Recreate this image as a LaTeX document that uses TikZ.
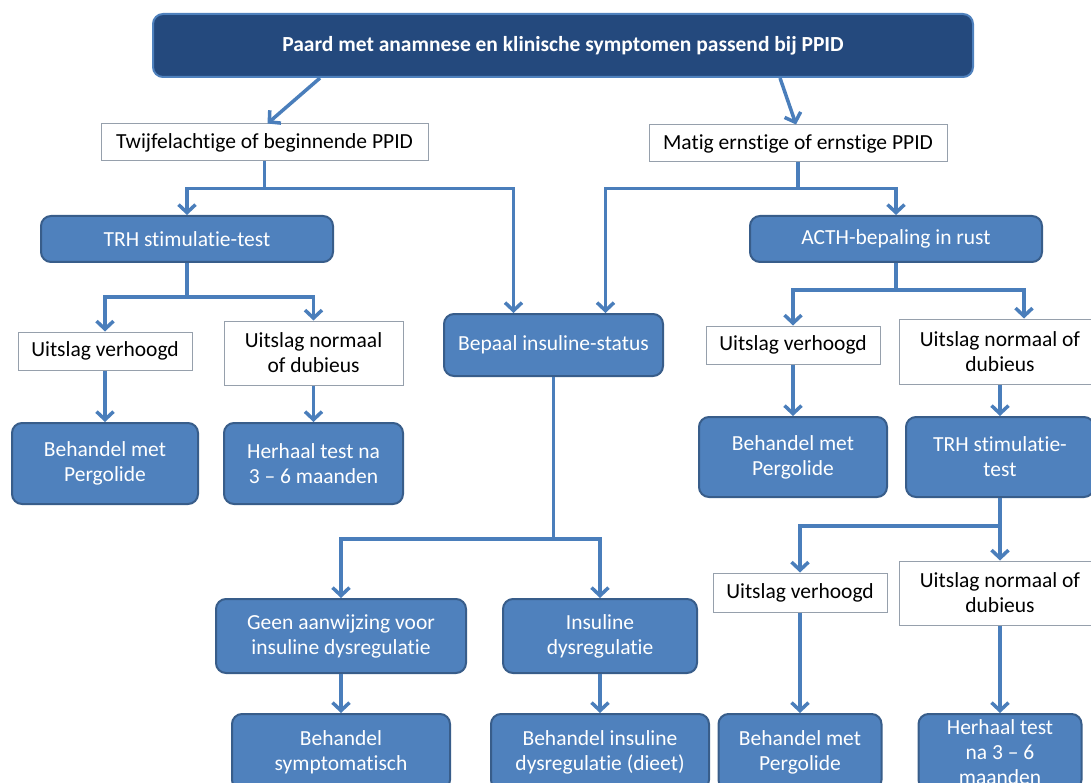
\documentclass[tikz,border=0pt]{standalone}
\usepackage{fontspec}
\setmainfont{Carlito}[Ligatures=NoCommon]
\usepackage{tikz}
\usetikzlibrary{arrows.meta, positioning}
\usepackage{xcolor}
\definecolor{navy}{RGB}{36,73,125}
\definecolor{midblue}{RGB}{79,129,189}
\definecolor{darkrim}{RGB}{56,93,138}
\definecolor{linkblue}{RGB}{74,126,187}
\definecolor{rimgray}{RGB}{150,160,172}

\begin{document}
\begin{tikzpicture}[x=1pt, y=-1pt, ->, >={Straight Barb[length=8pt, width=17pt]}]
    \tikzstyle{headbox} = [draw=midblue, line width=2pt, fill=navy, rounded corners=10pt, text=white, font=\fontsize{21.5}{25}\selectfont\bfseries, align=center, inner sep=2pt]
    \tikzstyle{choicebox} = [draw=rimgray, line width=1pt, fill=white, text=black, font=\fontsize{21.5}{25}\selectfont, align=center, inner sep=2pt]
    \tikzstyle{actionbox} = [draw=darkrim, line width=2pt, fill=midblue, rounded corners=10pt, text=white, font=\fontsize{21.5}{25}\selectfont, align=center, inner sep=2pt]
    \tikzstyle{link} = [draw=linkblue, line width=3.5pt]
    \useasboundingbox (0,0) rectangle (1091,783);
    \clip (0,0) rectangle (1091,783);
    % top and the two branches
    \node [headbox, minimum width=820, minimum height=63] at (563,45.5) (1) {Paard met anamnese en klinische symptomen passend bij PPID};
    \node [choicebox, minimum width=327, minimum height=37] at (264.5,142.5) (2) {Twijfelachtige of beginnende PPID};
    \node [choicebox, minimum width=298, minimum height=37] at (798,143.5) (3) {Matig ernstige of ernstige PPID};
    \node [actionbox, minimum width=292, minimum height=46] at (187,239) (4) {TRH stimulatie-test};
    \node [actionbox, minimum width=219, minimum height=62] at (553.5,345) (5) {Bepaal insuline-status};
    \node [actionbox, minimum width=292, minimum height=46] at (896,239) (6) {ACTH-bepaling in rust};
    % left column
    \node [choicebox, minimum width=174, minimum height=38] at (105,351) (7) {Uitslag verhoogd};
    \node [choicebox, minimum width=179, minimum height=64] at (313.5,353) (8) {Uitslag normaal\\of dubieus};
    \node [actionbox, minimum width=186, minimum height=81] at (105,463.5) (9) {Behandel met\\Pergolide};
    \node [actionbox, minimum width=179, minimum height=81] at (313.5,463.5) (10) {Herhaal test na\\3 -- 6 maanden};
    % insuline column
    \node [actionbox, minimum width=250, minimum height=74] at (341,636) (11) {Geen aanwijzing voor\\insuline dysregulatie};
    \node [actionbox, minimum width=194, minimum height=74] at (600,636) (12) {Insuline\\dysregulatie};
    \node [actionbox, minimum width=218, minimum height=76] at (341,752) (13) {Behandel\\symptomatisch};
    \node [actionbox, minimum width=218, minimum height=76] at (600,752) (14) {Behandel insuline\\dysregulatie (dieet)};
    % right column
    \node [choicebox, minimum width=174, minimum height=38] at (793,345) (15) {Uitslag verhoogd};
    \node [choicebox, minimum width=202, minimum height=65] at (1000,351.5) (16) {Uitslag normaal of\\dubieus};
    \node [actionbox, minimum width=188, minimum height=80] at (793,457) (17) {Behandel met\\Pergolide};
    \node [actionbox, minimum width=188, minimum height=80] at (1000,457) (18) {TRH stimulatie-\\test};
    \node [choicebox, minimum width=174, minimum height=39] at (800,592.5) (19) {Uitslag verhoogd};
    \node [choicebox, minimum width=202, minimum height=64] at (1000,593) (20) {Uitslag normaal of\\dubieus};
    \node [actionbox, minimum width=163, minimum height=76] at (800,752) (21) {Behandel met\\Pergolide};
    \node [actionbox, minimum width=163, minimum height=76, inner sep=0pt] at (1000,752) (22) {Herhaal test\\na 3 -- 6\\maanden};
    % connectors
    \draw [link] ([xshift=-243]1.south) -- ([xshift=3]2.north);
    \draw [link] ([xshift=217]1.south) -- ([xshift=-2]3.north);
    \draw [link] (2.south) -- ++(0,27) -| (4.north);
    \draw [link] (2.south) -- ++(0,27) -| ([xshift=-40]5.north);
    \draw [link] (3.south) -- ++(0,26) -| ([xshift=52]5.north);
    \draw [link] (3.south) -- ++(0,26) -| (6.north);
    \draw [link] (4.south) -- ++(0,34) -| (7.north);
    \draw [link] (4.south) -- ++(0,34) -| (8.north);
    \draw [link] (7.south) -- (9.north);
    \draw [link] (8.south) -- (10.north);
    \draw [link] (5.south) -- ++(0,162) -| (11.north);
    \draw [link] (5.south) -- ++(0,162) -| (12.north);
    \draw [link] (11.south) -- (13.north);
    \draw [link] (12.south) -- (14.north);
    \draw [link] (6.south) -- ++(0,27) -| (15.north);
    \draw [link] (6.south) -- ++(0,27) -| ([xshift=24]16.north);
    \draw [link] (15.south) -- (17.north);
    \draw [link] (16.south) -- (18.north);
    \draw [link] (18.south) -- ++(0,28) -| (19.north);
    \draw [link] (18.south) -- ++(0,28) -| (20.north);
    \draw [link] (19.south) -- (21.north);
    \draw [link] (20.south) -- (22.north);
\end{tikzpicture}
\end{document}
